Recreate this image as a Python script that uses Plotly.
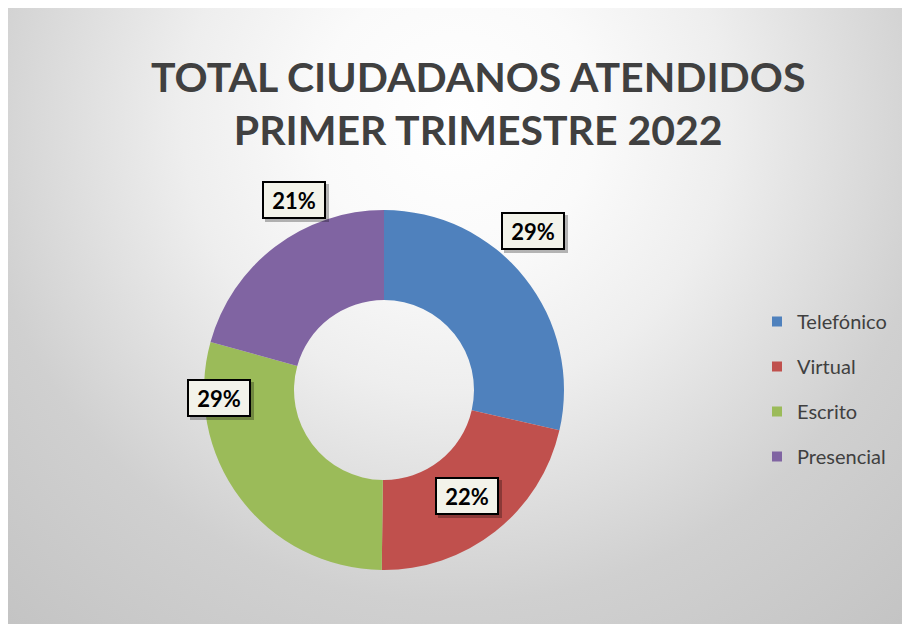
import base64
import plotly.graph_objects as go

# ---- data ----
categories = ["Telefónico", "Virtual", "Escrito", "Presencial"]
values = [2860, 2160, 2910, 2070]
colors = ["#4F81BD", "#C0504D", "#9BBB59", "#8064A2"]
title_lines = ["TOTAL CIUDADANOS ATENDIDOS", "PRIMER TRIMESTRE 2022"]

# label box placement (screen pixel centers, Excel-style manual placement)
label_pos_px = [(533, 231), (467, 496), (219, 398), (294, 200)]

W, H = 910, 624
OFF = 8  # page body margin
FONT = "Lato, sans-serif"

def px(x):
    return (x - OFF) / W

def py(y):
    return 1 - (y - OFF) / H

# ---- background gradient (svg) ----
svg = f'''<svg xmlns="http://www.w3.org/2000/svg" width="{W}" height="{H}" viewBox="0 0 {W} {H}">
<defs><radialGradient id="g" gradientUnits="userSpaceOnUse" cx="448" cy="112" r="700">
<stop offset="0" stop-color="#FFFFFF"/>
<stop offset="0.2" stop-color="#FAFAFA"/>
<stop offset="0.39" stop-color="#EEEEEE"/>
<stop offset="0.69" stop-color="#D0D0D0"/>
<stop offset="0.96" stop-color="#C4C4C4"/>
</radialGradient></defs>
<rect x="0" y="0" width="{W}" height="{H}" fill="url(#g)"/>
</svg>'''
svg_uri = "data:image/svg+xml;base64," + base64.b64encode(svg.encode()).decode()

fig = go.Figure()

fig.add_trace(go.Pie(
    labels=categories,
    values=values,
    hole=0.5,
    sort=False,
    direction="clockwise",
    rotation=0,
    marker=dict(colors=colors, line=dict(width=0)),
    textinfo="none",
    showlegend=False,
    domain=dict(x=[px(204), px(564)], y=[py(570), py(210)]),
))

# legend entries (dummy traces so the legend uses square markers)
for cat, col in zip(categories, colors):
    fig.add_trace(go.Scatter(
        x=[None], y=[None], mode="markers",
        marker=dict(symbol="square", size=10, color=col),
        name=cat, legendgroup=cat, showlegend=True,
    ))

total = sum(values)
annotations = []

title_text = "<br>".join(f"<b>{t}</b>" for t in title_lines)
annotations.append(dict(
    x=px(478), y=py(103), xref="paper", yref="paper",
    xanchor="center", yanchor="middle",
    text=title_text, showarrow=False,
    font=dict(family=FONT, size=41, color="#404040"),
    align="center",
))

for v, (cx, cy) in zip(values, label_pos_px):
    pct = f"{round(v / total * 100)}%"
    # soft shadow
    annotations.append(dict(
        x=px(cx + 3), y=py(cy + 3), xref="paper", yref="paper",
        xanchor="center", yanchor="middle",
        text=" ", showarrow=False, width=62, height=36,
        bgcolor="rgba(0,0,0,0.28)", borderwidth=0, borderpad=1,
    ))
    annotations.append(dict(
        x=px(cx), y=py(cy), xref="paper", yref="paper",
        xanchor="center", yanchor="middle",
        text=f"<b>{pct}</b>", showarrow=False, width=58, height=32,
        font=dict(family=FONT, size=22, color="#000000"),
        bgcolor="#F3F3EA", bordercolor="#000000", borderwidth=2, borderpad=1,
    ))

fig.update_layout(
    width=W, height=H,
    margin=dict(l=0, r=0, t=0, b=0),
    paper_bgcolor="#FFFFFF",
    plot_bgcolor="rgba(0,0,0,0)",
    xaxis=dict(visible=False),
    yaxis=dict(visible=False),
    images=[dict(
        source=svg_uri, xref="paper", yref="paper",
        x=0, y=1, sizex=1, sizey=1,
        xanchor="left", yanchor="top", sizing="stretch", layer="below",
    )],
    legend=dict(
        x=px(757), y=py(302), xanchor="left", yanchor="top",
        bgcolor="rgba(0,0,0,0)",
        font=dict(family="Lato, sans-serif", size=20, color="#404040"),
        tracegroupgap=16,
        itemclick=False, itemdoubleclick=False,
    ),
    annotations=annotations,
)

fig.write_html("out.html")
